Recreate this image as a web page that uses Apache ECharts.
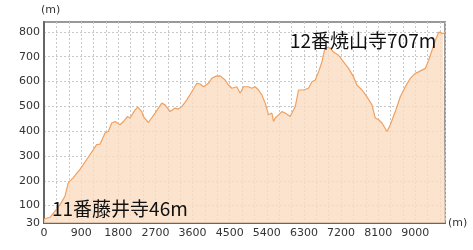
<!DOCTYPE html>
<html><head><meta charset="utf-8">
<script src="https://cdn.jsdelivr.net/npm/echarts@6/dist/echarts.min.js"></script>
<style>html,body{margin:0;padding:0;background:#fff}#c{width:473px;height:250px}</style>
</head><body><div id="c"></div>
<script>
const distances = [0,146,307,420,510,590,711,873,1035,1197,1277,1360,1480,1560,1641,1722,1844,1925,2022,2086,2208,2273,2370,2410,2531,2693,2855,2935,3057,3178,3259,3340,3462,3583,3704,3785,3866,3987,4068,4173,4270,4310,4391,4472,4553,4674,4755,4836,4957,5038,5119,5200,5281,5362,5443,5483,5524,5564,5605,5686,5767,5847,5968,6049,6090,6170,6291,6412,6494,6575,6655,6736,6817,6858,6940,7018,7140,7261,7382,7503,7585,7707,7828,7950,8030,8111,8192,8314,8394,8515,8636,8758,8879,9000,9081,9162,9243,9324,9405,9486,9567,9607,9672,9720];
const elevations = [46,53,86,112,139,193,213,246,286,326,346,348,393,399,433,439,426,439,459,453,486,497,479,459,435,473,513,506,479,493,489,499,526,559,593,590,579,593,613,622,623,630,606,586,573,579,553,579,579,573,579,566,546,513,466,459,473,439,453,466,479,473,459,486,499,566,566,573,599,606,639,679,740,748,735,719,706,679,653,619,586,566,539,506,453,446,433,399,426,479,539,579,613,633,639,646,653,686,726,766,799,806,793,798];
const yTicks = [30,100,200,300,400,500,600,700,800];
const xLabelStep = 900;
const startLabel = '11番藤井寺46m';
const peakLabel = '12番焼山寺707m';
const unit = '(m)';

const chart = echarts.init(document.getElementById('c'), null, {renderer:'canvas'});
const font = 'DejaVu Sans';
chart.setOption({
  animation:false,
  grid:{left:44,top:22,right:28,bottom:27,show:true,borderColor:'#999',borderWidth:2},
  xAxis:{type:'value',min:0,max:9720,interval:300,
    name:unit,nameLocation:'end',nameGap:3,nameTextStyle:{fontFamily:font,fontSize:11,color:'#333',padding:[0,0,6,0],verticalAlign:'middle'},
    axisLine:{lineStyle:{color:'#666',width:2}},
    axisTick:{show:false},
    axisLabel:{fontFamily:font,fontSize:11,color:'#333',margin:5,
      formatter:v=> (v % xLabelStep === 0 && v < 9720) ? String(v) : ''},
    splitLine:{lineStyle:{color:'#c8c8c8',type:[2,2],width:1}}},
  yAxis:{type:'value',min:30,max:840,
    name:unit,nameLocation:'end',nameGap:6,nameTextStyle:{fontFamily:font,fontSize:11,color:'#333',align:'left',padding:[0,0,0,-3]},
    axisLine:{show:true,lineStyle:{color:'#666',width:2}},
    axisTick:{show:false,customValues:yTicks},
    axisLabel:{fontFamily:font,fontSize:11,color:'#333',margin:4,customValues:yTicks},
    splitLine:{lineStyle:{color:'#c8c8c8',type:[2,2],width:1}}},
  series:[{type:'line',data:distances.map((d,i)=>[d,elevations[i]]),
    showSymbol:false,symbol:'none',
    lineStyle:{color:'#f0a060',width:1.2},
    areaStyle:{color:'#fbdcc0',opacity:0.8,origin:'start'}}],
  graphic:[
    {type:'text',left:52,top:199,z:100,style:{text:startLabel,fontFamily:'Noto Sans CJK JP',fontSize:19,fill:'#111'}},
    {type:'text',left:290,top:31,z:100,style:{text:peakLabel,fontFamily:'Noto Sans CJK JP',fontSize:19,fill:'#111'}}
  ]
});
</script></body></html>
